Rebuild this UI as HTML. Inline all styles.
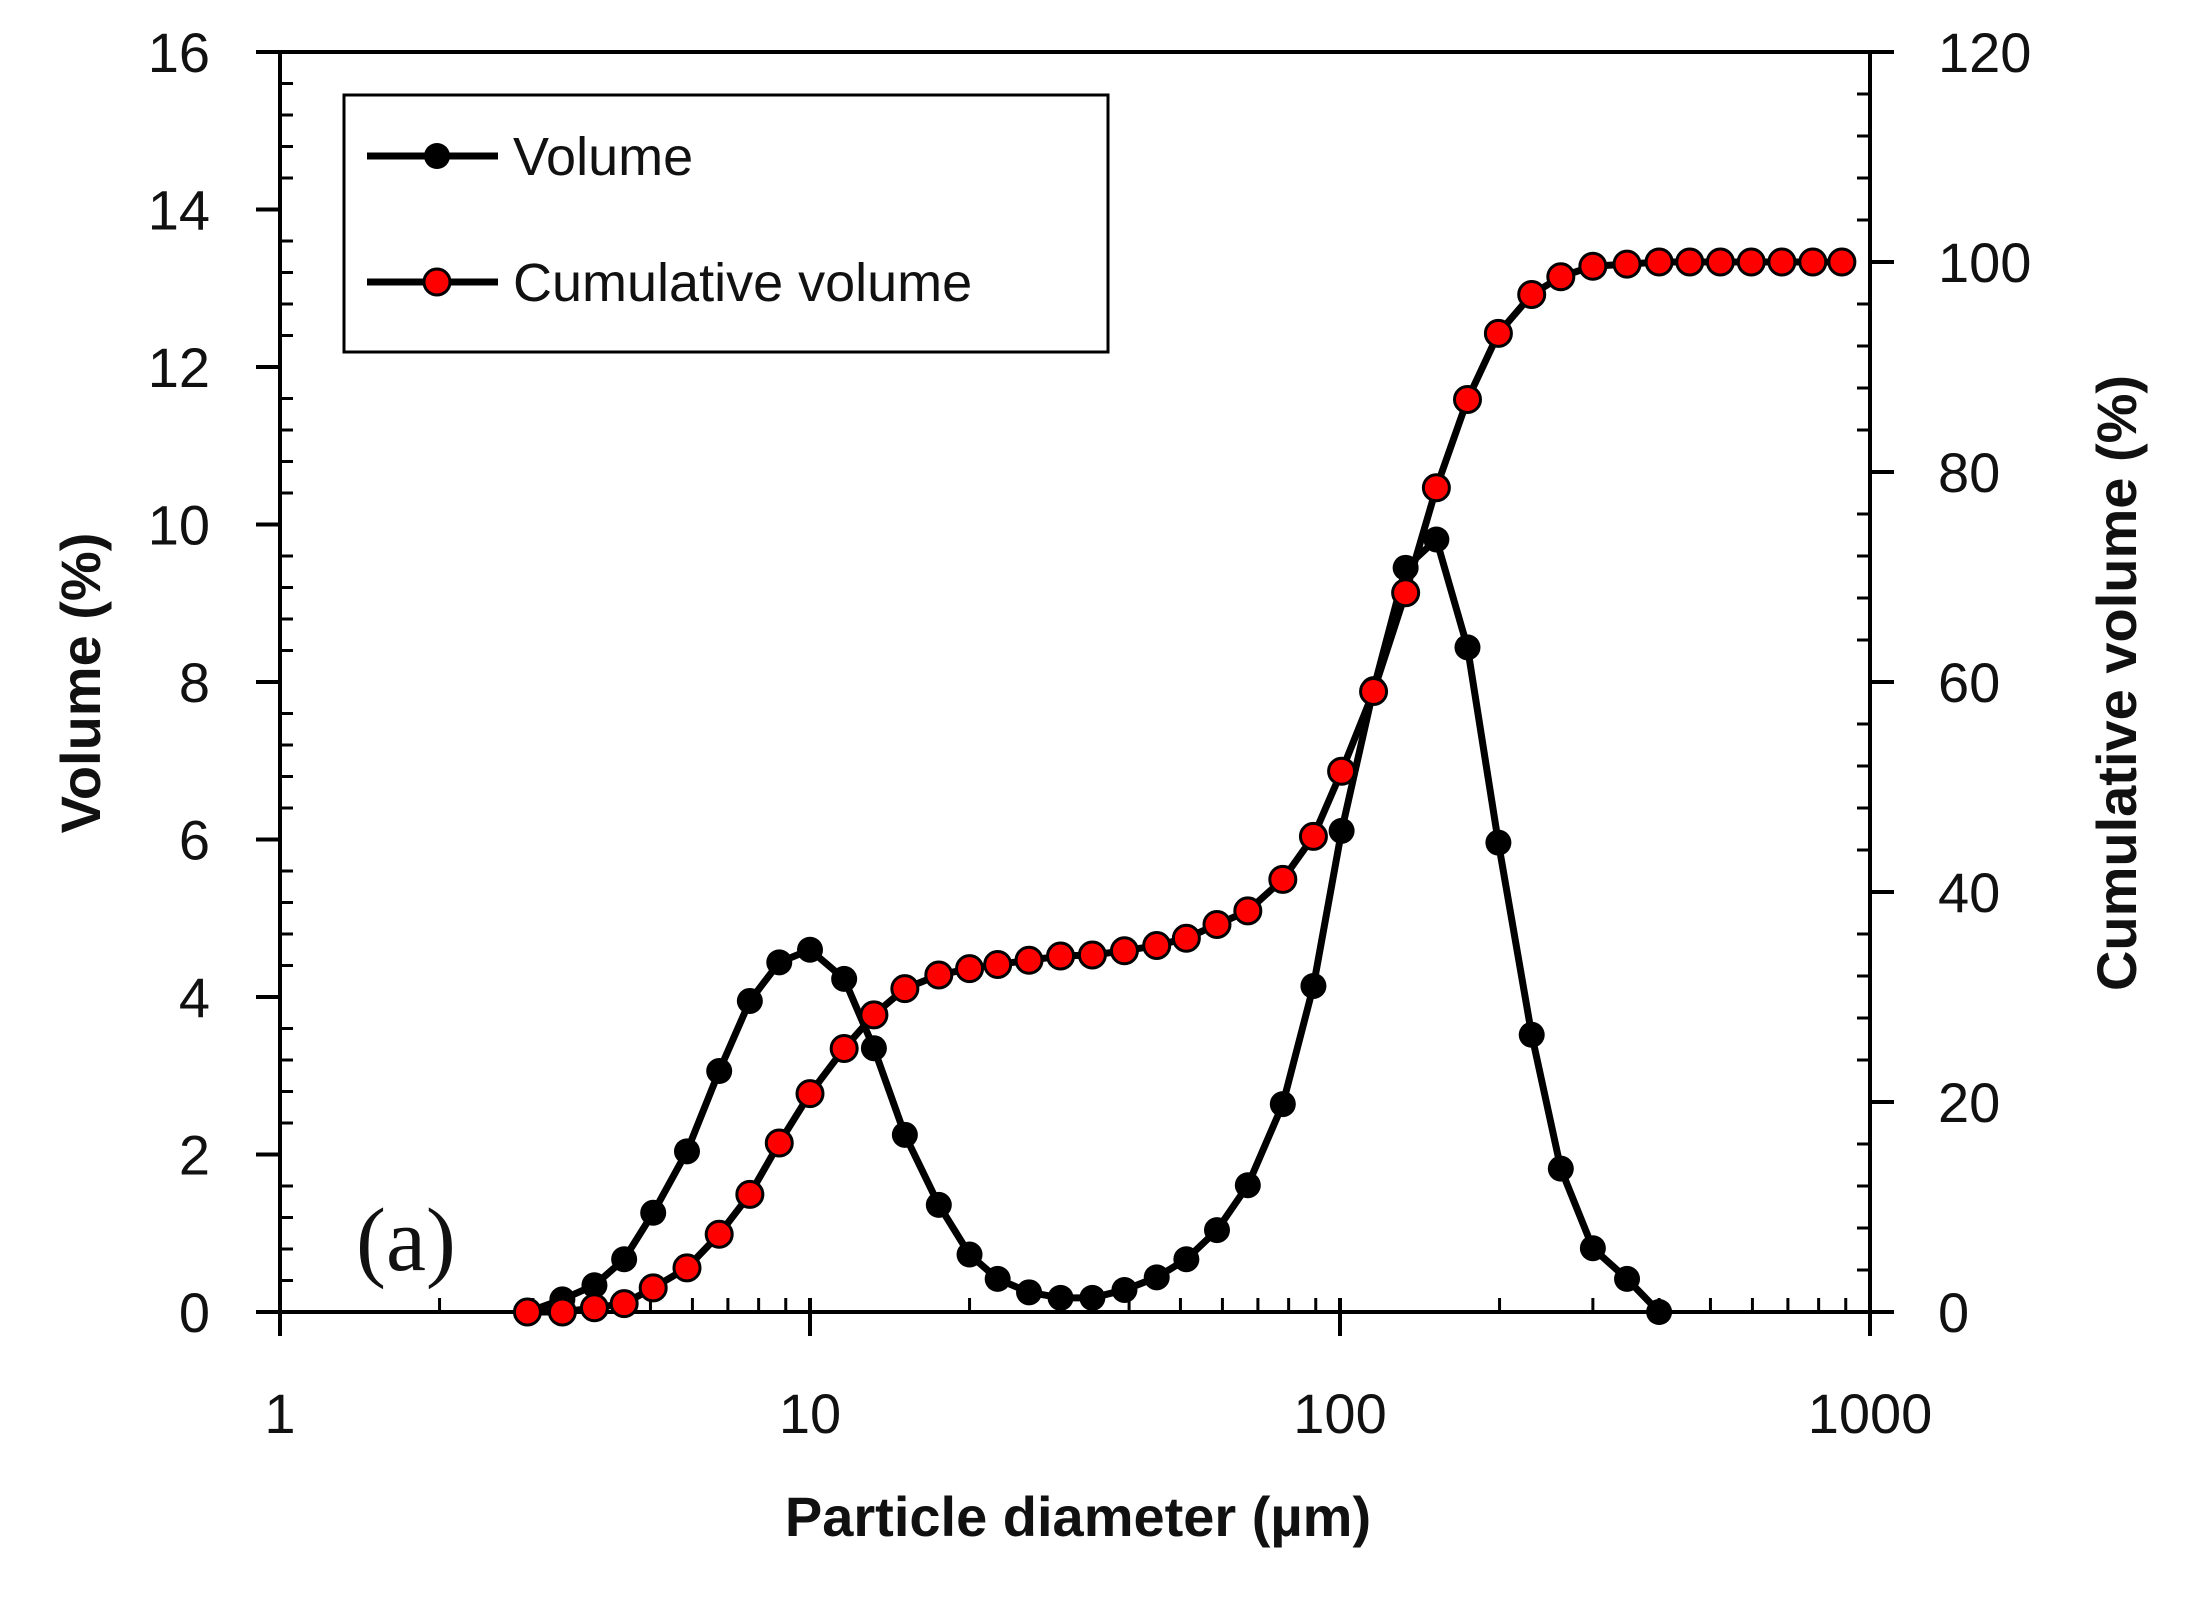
<!DOCTYPE html>
<html><head><meta charset="utf-8"><style>
html,body{margin:0;padding:0;background:#fff;}
svg{display:block;}
text{font-family:"Liberation Sans",sans-serif;}
</style></head><body>
<svg id="chart" width="2189" height="1599" viewBox="0 0 2189 1599" xmlns="http://www.w3.org/2000/svg">
<rect x="0" y="0" width="2189" height="1599" fill="#fff"/>
<g id="axes"></g>
<g id="series"></g>
<g id="legend">
  <rect x="344" y="95" width="764" height="257" fill="#fff" stroke="#000" stroke-width="3"/>
  <g>
    <line x1="367" y1="156" x2="498" y2="156" stroke="#000" stroke-width="7"/>
    <circle cx="437" cy="156" r="13" fill="#000"/>
    <text x="513" y="175" font-size="54" fill="#111">Volume</text>
  </g>
  <g>
    <line x1="367" y1="282" x2="498" y2="282" stroke="#000" stroke-width="7"/>
    <circle cx="437" cy="282" r="13" fill="#ff0000" stroke="#000" stroke-width="3"/>
    <text x="513" y="301" font-size="54" fill="#111">Cumulative volume</text>
  </g>
</g>
<text x="356" y="1270" font-size="90" fill="#111" style="font-family:'Liberation Serif',serif">(a)</text>
<text x="1078" y="1536" font-size="56" font-weight="bold" text-anchor="middle" fill="#111">Particle diameter (µm)</text>
<text transform="translate(100,683) rotate(-90)" font-size="56" font-weight="bold" text-anchor="middle" fill="#111">Volume (%)</text>
<text transform="translate(2136,683) rotate(-90)" font-size="56" font-weight="bold" text-anchor="middle" fill="#111">Cumulative volume (%)</text>
</svg>
<script>
const diameters = [2.93,3.41,3.92,4.46,5.06,5.86,6.74,7.70,8.75,10.0,11.6,13.2,15.1,17.5,20.0,22.6,25.9,29.7,34.1,39.2,45.1,51.3,58.6,67.0,78.0,89.1,100.7,115.7,133,152,174,199,230,261,300,348,400,457,522,597,682,780,885];
const volumeValues = [0,0.16,0.34,0.67,1.26,2.04,3.06,3.95,4.44,4.60,4.23,3.35,2.25,1.36,0.73,0.42,0.25,0.18,0.18,0.28,0.44,0.67,1.04,1.61,2.64,4.14,6.11,7.91,9.45,9.81,8.44,5.96,3.52,1.82,0.81,0.42,0];
const cumulativeValues = [0,0,0.4,0.8,2.3,4.2,7.4,11.2,16.1,20.8,25.1,28.3,30.8,32.1,32.7,33.1,33.5,33.9,34.0,34.4,34.9,35.6,36.9,38.2,41.2,45.3,51.5,59.1,68.5,78.5,86.9,93.2,96.9,98.6,99.6,99.8,100,100,100,100,100,100,100];
const xTickLabels = ["1","10","100","1000"];
const yTickLabels = ["0","2","4","6","8","10","12","14","16"];
const y2TickLabels = ["0","20","40","60","80","100","120"];

const L=280,R=1870,T=52,B=1312;
const NS="http://www.w3.org/2000/svg";
function xs(v){return L+(Math.log10(v)-0)/3*(R-L);}
function ys(v){return B-v/16*(B-T);}
function y2s(v){return B-v/120*(B-T);}
function mk(tag,attrs,parent){const e=document.createElementNS(NS,tag);for(const k in attrs)e.setAttribute(k,attrs[k]);parent.appendChild(e);return e;}
const axes=document.getElementById('axes');
const ser=document.getElementById('series');
let e;
e=mk('line',{x1:L-24,y1:B,x2:R+24,y2:B,stroke:'#000','stroke-width':4},axes);


e=mk('line',{x1:L-24,y1:T,x2:R,y2:T,stroke:'#000','stroke-width':4},axes);


e=mk('line',{x1:L,y1:T,x2:L,y2:B+24,stroke:'#000','stroke-width':4},axes);


e=mk('line',{x1:R,y1:T,x2:R,y2:B+24,stroke:'#000','stroke-width':4},axes);


xTickLabels.forEach((lab,i)=>{
  const v=Math.pow(10,i), x=xs(v);
  mk('line',{x1:x,y1:B-14,x2:x,y2:B+24,stroke:'#000','stroke-width':4},axes);
  const t=mk('text',{x:x,y:1433,'font-size':56,'text-anchor':'middle',fill:'#111'},axes);
  t.textContent=lab;
  
  
  if(i<3){for(let m=2;m<10;m++){const xm=xs(v*m);mk('line',{x1:xm,y1:B-14,x2:xm,y2:B,stroke:'#000','stroke-width':3},axes);}}
});
yTickLabels.forEach((lab,i)=>{
  const v=i*2,y=ys(v);
  mk('line',{x1:L-24,y1:y,x2:L,y2:y,stroke:'#000','stroke-width':4},axes);
  const t=mk('text',{x:210,y:y+20,'font-size':56,'text-anchor':'end',fill:'#111'},axes);
  t.textContent=lab;
  
  
  if(i<8){for(let m=1;m<5;m++){const ym=ys(v+m*0.4);mk('line',{x1:L,y1:ym,x2:L+13,y2:ym,stroke:'#000','stroke-width':3},axes);}}
});
y2TickLabels.forEach((lab,i)=>{
  const v=i*20,y=y2s(v);
  mk('line',{x1:R,y1:y,x2:R+24,y2:y,stroke:'#000','stroke-width':4},axes);
  const t=mk('text',{x:1938,y:y+20,'font-size':56,'text-anchor':'start',fill:'#111'},axes);
  t.textContent=lab;
  
  
  if(i<6){for(let m=1;m<5;m++){const ym=y2s(v+m*4);mk('line',{x1:R-13,y1:ym,x2:R,y2:ym,stroke:'#000','stroke-width':3},axes);}}
});
let pts=volumeValues.map((v,i)=>xs(diameters[i])+','+ys(v)).join(' ');
e=mk('polyline',{points:pts,fill:'none',stroke:'#000','stroke-width':7,'stroke-linejoin':'round'},ser);


volumeValues.forEach((v,i)=>{
  const c=mk('circle',{cx:xs(diameters[i]),cy:ys(v),r:13,fill:'#000'},ser);
  
  
});
pts=cumulativeValues.map((v,i)=>xs(diameters[i])+','+y2s(v)).join(' ');
e=mk('polyline',{points:pts,fill:'none',stroke:'#000','stroke-width':7,'stroke-linejoin':'round'},ser);


cumulativeValues.forEach((v,i)=>{
  const c=mk('circle',{cx:xs(diameters[i]),cy:y2s(v),r:13,fill:'#ff0000',stroke:'#000','stroke-width':3},ser);
  
  
});
</script>
</body></html>
